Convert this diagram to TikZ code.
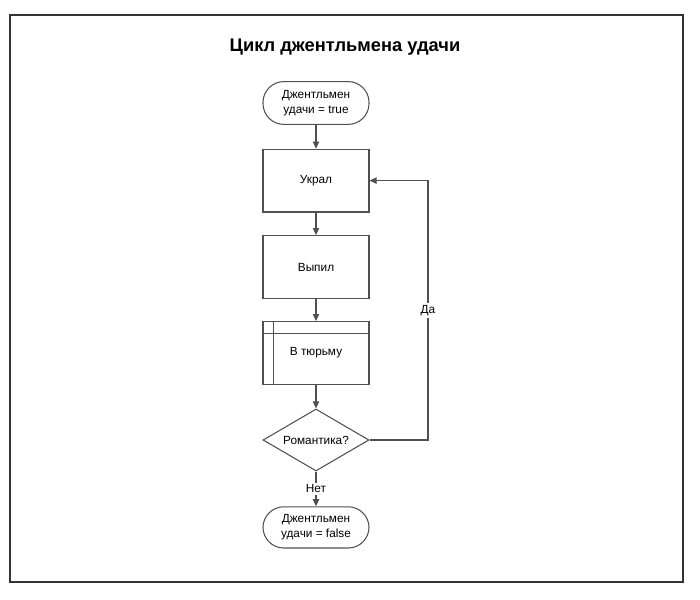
\documentclass[tikz,border=0pt]{standalone}
\usepackage{fontspec}
\setmainfont{Liberation Sans}
\usetikzlibrary{arrows.meta, shapes.geometric, calc}
\definecolor{linha}{RGB}{80, 80, 80}

\begin{document}
\begin{tikzpicture}[
    bloco/.style={
        draw=linha,
        line width=0.75pt,
        align=center,
        font=\fontsize{8.4}{10.5}\selectfont,
        minimum width=2.65cm,
        minimum height=1.57cm,
        inner sep=2pt
    },
    terminal/.style={
        bloco,
        rounded corners=0.52cm,
        minimum height=1.07cm
    },
    decisao/.style={
        bloco,
        diamond,
        aspect=1.7,
        inner sep=0pt,
        minimum height=1.55cm
    },
    rotulo/.style={
        fill=white,
        inner sep=1.5pt,
        font=\fontsize{8.4}{10.5}\selectfont
    },
    seta/.style={
        -{Triangle[length=5pt,width=4.5pt]},
        draw=linha,
        line width=0.75pt
    }
]

\useasboundingbox (0,0) rectangle (17.5,14.975);
\draw[line width=0.8pt, draw=black!80] (0.25,0.425) rectangle (17.075,14.6);

\node[font=\bfseries\fontsize{13}{15}\selectfont] (titulo) at (8.625,13.8)
{Цикл джентльмена удачи};

\node[terminal] (inicio) at (7.9,12.4)
{Джентльмен\\
удачи = true};

\node[bloco] (roubou) at (7.9,10.46)
{Украл};

\node[bloco] (bebeu) at (7.9,8.3)
{Выпил};

\node[bloco] (prisao) at (7.9,6.15)
{В тюрьму};
\draw[draw=linha, line width=0.75pt]
    ($(prisao.north west)+(0.275,0)$) -- ($(prisao.south west)+(0.275,0)$);
\draw[draw=linha, line width=0.75pt]
    ($(prisao.north west)+(0,-0.3)$) -- ($(prisao.north east)+(0,-0.3)$);

\node[decisao] (romance) at (7.9,3.975)
{Романтика?};

\node[terminal, minimum height=1.03cm] (fim) at (7.9,1.79)
{Джентльмен\\
удачи = false};

\coordinate (volta) at (10.7,0);

\draw[seta] (inicio) -- (roubou);
\draw[seta] (roubou) -- (bebeu);
\draw[seta] (bebeu) -- (prisao);
\draw[seta] (prisao) -- (romance);

\draw[seta] (romance) --
node[rotulo]{Нет} (fim);

\draw[seta] (romance.east) -- (romance.east -| volta) --
node[rotulo]{Да} (roubou.east -| volta) -- (roubou.east);

\end{tikzpicture}
\end{document}
